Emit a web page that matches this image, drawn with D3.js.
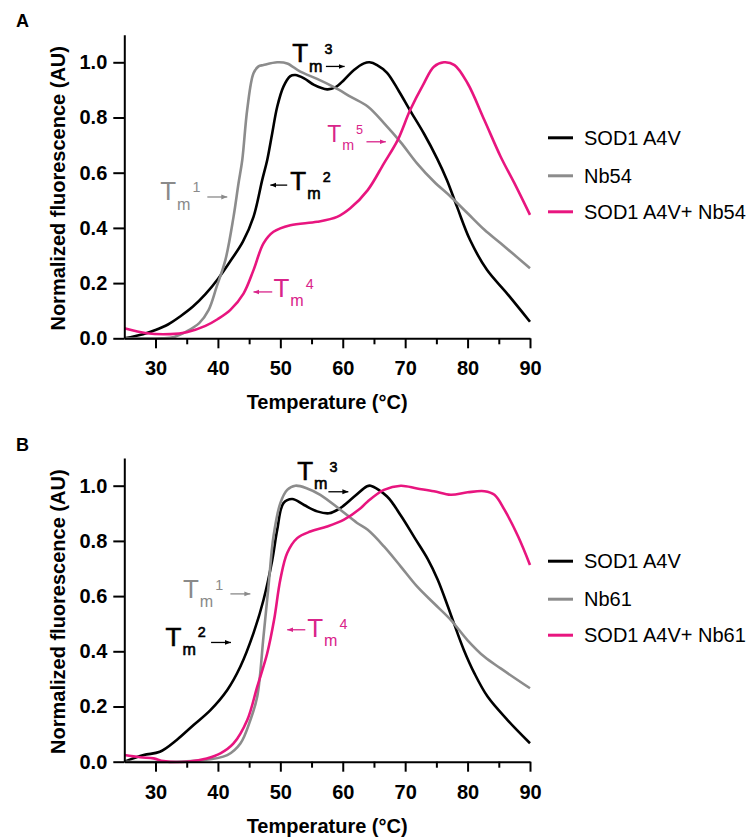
<!DOCTYPE html>
<meta charset="utf-8">
<style type="text/css">
body { margin: 0; background: #fff; }
svg { font-family: "Liberation Sans", Arial, sans-serif; }
.axis path, .axis line { stroke: #000; stroke-width: 2; }
.axis text { font-size: 20px; font-weight: bold; fill: #000; font-family: "Liberation Sans", Arial, sans-serif; }
.curve { fill: none; stroke-width: 2.6; stroke-linejoin: round; }
.axis-title { font-size: 20px; font-weight: bold; }
.legend text { font-size: 20px; }
.panel-label { font-size: 18px; font-weight: bold; }
</style>
<body>
</body>
<script src="https://d3js.org/d3.v7.min.js"></script>
<script>

// ---- data ----
// panel A : SOD1 A4V, Nb54, SOD1 A4V + Nb54
var a_sod1_T = [25, 28, 30, 32, 34, 36, 38, 40, 42, 44, 45.7, 47.1, 47.9, 48.7, 49.5, 50.5, 51.6, 52.4, 53.8, 55.4, 57.5, 58.8, 60.2, 61.8, 63.4, 64.3, 65.5, 67.1, 69, 70.8, 73, 75.1, 76.7, 78.3, 80.4, 83.1, 86.3, 90];
var a_sod1_F = [0, 0.015, 0.03, 0.05, 0.08, 0.115, 0.16, 0.215, 0.28, 0.35, 0.44, 0.574, 0.646, 0.743, 0.839, 0.912, 0.95, 0.954, 0.942, 0.918, 0.902, 0.909, 0.936, 0.972, 0.996, 1.0, 0.99, 0.962, 0.895, 0.825, 0.742, 0.652, 0.573, 0.477, 0.356, 0.248, 0.163, 0.06];

var a_nb_T = [25, 31, 33, 35, 37, 38.5, 39.8, 41.2, 42.5, 43.3, 43.9, 44.7, 45.7, 46.5, 47.3, 49.5, 51.1, 53.2, 55.9, 58.6, 61.3, 64, 66.6, 69.3, 71.9, 74.6, 77.3, 80, 82.7, 85.3, 90];
var a_nb_F = [0, 0, 0.005, 0.025, 0.055, 0.102, 0.187, 0.284, 0.44, 0.562, 0.646, 0.83, 0.96, 0.985, 0.99, 1.0, 0.996, 0.966, 0.94, 0.91, 0.875, 0.84, 0.78, 0.71, 0.634, 0.568, 0.513, 0.453, 0.393, 0.344, 0.254];

var a_mix_T = [25, 28.6, 32.4, 35, 38, 40, 42, 44.1, 45.7, 47.3, 48.9, 51.6, 55.9, 59.1, 61.2, 64, 66.6, 68.8, 70.8, 73, 74.6, 76.2, 77.9, 80, 82.7, 85.3, 87.5, 90];
var a_mix_F = [0.036, 0.018, 0.015, 0.022, 0.045, 0.07, 0.103, 0.162, 0.247, 0.344, 0.386, 0.41, 0.422, 0.44, 0.471, 0.537, 0.634, 0.718, 0.827, 0.924, 0.984, 1.0, 0.99, 0.924, 0.79, 0.658, 0.562, 0.447];

// panel B : SOD1 A4V, Nb61, SOD1 A4V + Nb61
var b_sod1_T = [25, 28.1, 30.7, 33.4, 36.1, 38.8, 41.5, 43.6, 45.7, 47.3, 48.7, 49.5, 50.5, 51.9, 53.8, 55.9, 57.8, 59.6, 61.8, 63.9, 64.45, 67.1, 69.3, 71.5, 73.6, 75.2, 76.8, 77.8, 79.4, 81.1, 83.2, 86.4, 90];
var b_sod1_F = [0, 0.024, 0.036, 0.079, 0.133, 0.187, 0.26, 0.345, 0.466, 0.586, 0.73, 0.84, 0.937, 0.952, 0.93, 0.907, 0.9, 0.919, 0.96, 0.998, 1.0, 0.961, 0.892, 0.812, 0.735, 0.66, 0.565, 0.502, 0.405, 0.32, 0.236, 0.151, 0.067];

var b_nb_T = [25, 37, 41.5, 43.6, 45.2, 46.3, 47.3, 48.1, 48.9, 50, 51.1, 52.4, 54.3, 56.4, 59.6, 62.3, 64, 66.6, 69.3, 71.9, 74.6, 77.3, 80, 82.7, 85.3, 90];
var b_nb_F = [0, 0.004, 0.024, 0.066, 0.151, 0.236, 0.453, 0.635, 0.816, 0.937, 0.985, 1.0, 0.99, 0.967, 0.913, 0.865, 0.84, 0.78, 0.707, 0.635, 0.574, 0.514, 0.44, 0.38, 0.338, 0.266];

var b_mix_T = [25, 27.5, 29.7, 31.3, 35, 38.2, 40.4, 42.5, 44.7, 46.3, 47.9, 49, 50, 51.1, 52.7, 54.8, 57.5, 60.2, 62.9, 64, 66.6, 69.3, 71.9, 74.6, 77.3, 80, 82.7, 84.3, 85.9, 88.1, 90];
var b_mix_F = [0.024, 0.016, 0.012, 0.002, 0, 0.012, 0.03, 0.066, 0.151, 0.272, 0.393, 0.514, 0.66, 0.756, 0.81, 0.834, 0.852, 0.877, 0.919, 0.943, 0.985, 1.0, 0.99, 0.98, 0.967, 0.976, 0.98, 0.967, 0.913, 0.816, 0.713];

var legendA = ["SOD1 A4V", "Nb54", "SOD1 A4V+ Nb54"];
var legendB = ["SOD1 A4V", "Nb61", "SOD1 A4V+ Nb61"];

var xTicks = [30, 40, 50, 60, 70, 80, 90];
var xMinorTicks = [35, 45, 55, 65, 75, 85];
var yTicks = [0, 0.2, 0.4, 0.6, 0.8, 1.0];

var colors = ["#000000", "#8c8c8c", "#e8157f"];
var textColors = ["#000000", "#8a8a8a", "#d9248a"];

// Tm labels, placed in data units (temperature, fluorescence)
var notesA = [
  {n: "1", c: 1, tx: 30.75, ty: 0.50, ax: [38.3, 41.5], ay: 0.512, fs: 26},
  {n: "2", c: 0, tx: 51.6, ty: 0.537, ax: [51.1, 48.4], ay: 0.555, fs: 26},
  {n: "3", c: 0, tx: 51.9, ty: 1.0, ax: [57.3, 60.3], ay: 0.985, fs: 26},
  {n: "4", c: 2, tx: 48.9, ty: 0.150, ax: [48.7, 45.7], ay: 0.168, fs: 26},
  {n: "5", c: 2, tx: 57.5, ty: 0.713, ax: [63.8, 66.9], ay: 0.712, fs: 23}
];
var notesB = [
  {n: "1", c: 1, tx: 34.4, ty: 0.593, ax: [42.0, 45.2], ay: 0.608, fs: 26},
  {n: "2", c: 0, tx: 31.6, ty: 0.42, ax: [38.9, 42.1], ay: 0.432, fs: 26},
  {n: "3", c: 0, tx: 52.7, ty: 1.021, ax: [57.7, 60.9], ay: 0.978, fs: 26},
  {n: "4", c: 2, tx: 54.3, ty: 0.452, ax: [54.0, 51.1], ay: 0.478, fs: 26}
];

var W = 749, H = 839;
var svg = d3.select("body").append("svg")
    .attr("width", W)
    .attr("height", H);

// arrow heads, one per colour
var defs = svg.append("defs");
colors.forEach(function(c, i) {
  defs.append("marker")
      .attr("id", "arr" + i)
      .attr("viewBox", "0 0 10 10")
      .attr("refX", 10).attr("refY", 5)
      .attr("markerWidth", 6).attr("markerHeight", 6)
      .attr("markerUnits", "userSpaceOnUse")
      .attr("orient", "auto")
    .append("path")
      .attr("d", "M0,1 L10,5 L0,9 Z")
      .attr("fill", textColors[i]);
});

var x = d3.scaleLinear().domain([25, 90]).range([124.3, 530]);

function drawPanel(label, y0, series, legend, notes) {
  var y = d3.scaleLinear().domain([0, 1.1]).range([y0, y0 - 1.1 * 276]);
  var g = svg.append("g");

  // curves
  var line = d3.line()
      .x(function(d) { return x(d[0]); })
      .y(function(d) { return y(d[1]); })
      .curve(d3.curveCatmullRom.alpha(0.5));

  series.forEach(function(s, i) {
    g.append("path")
        .datum(d3.zip(s[0], s[1]))
        .attr("class", "curve")
        .attr("stroke", colors[i])
        .attr("d", line);
  });

  // axes
  g.append("g")
      .attr("class", "axis")
      .attr("transform", "translate(0," + y0 + ")")
      .call(d3.axisBottom(x).tickValues(xTicks).tickSize(10).tickSizeOuter(0).tickPadding(13).tickFormat(d3.format("d")));
  g.append("g")
      .attr("class", "axis")
      .attr("transform", "translate(0," + y0 + ")")
      .call(d3.axisBottom(x).tickValues(xMinorTicks).tickSize(6).tickSizeOuter(0).tickFormat(""))
      .select(".domain").remove();
  g.append("g")
      .attr("class", "axis")
      .attr("transform", "translate(" + x(25) + ",0)")
      .call(d3.axisLeft(y).tickValues(yTicks).tickSize(11).tickSizeOuter(0).tickPadding(6).tickFormat(d3.format(".1f")));

  // axis titles
  g.append("text")
      .attr("class", "axis-title")
      .attr("x", (x(25) + x(90)) / 2)
      .attr("y", y0 + 71)
      .attr("text-anchor", "middle")
      .text("Temperature (°C)");
  g.append("text")
      .attr("class", "axis-title")
      .attr("transform", "translate(64.5," + (y0 - 150) + ") rotate(-90)")
      .attr("text-anchor", "middle")
      .text("Normalized fluorescence (AU)");

  g.append("text")
      .attr("class", "panel-label")
      .attr("x", 16)
      .attr("y", y0 - 311)
      .text(label);

  // legend
  var lg = g.append("g").attr("class", "legend");
  var rows = [y0 - 200.5, y0 - 162.5, y0 - 126.5];
  legend.forEach(function(name, i) {
    lg.append("line")
        .attr("x1", 548).attr("x2", 573)
        .attr("y1", rows[i]).attr("y2", rows[i])
        .attr("stroke", colors[i])
        .attr("stroke-width", 3);
    lg.append("text")
        .attr("x", 584)
        .attr("y", rows[i])
        .attr("dy", "0.35em")
        .text(name);
  });

  // Tm annotations
  notes.forEach(function(n) {
    var col = textColors[n.c];
    var t = g.append("text")
        .attr("x", x(n.tx))
        .attr("y", y(n.ty))
        .attr("fill", col)
        .style("font-size", n.fs + "px");
    if (n.c === 0) t.attr("stroke", col).attr("stroke-width", 0.6);
    t.append("tspan").text("T");
    t.append("tspan")
        .attr("dx", 1)
        .attr("dy", n.fs * 0.36)
        .style("font-size", (n.fs * 0.62) + "px")
        .text("m");
    t.append("tspan")
        .attr("dx", 2)
        .attr("dy", -n.fs * 0.68)
        .style("font-size", (n.fs * 0.55) + "px")
        .text(n.n);
    g.append("line")
        .attr("x1", x(n.ax[0])).attr("x2", x(n.ax[1]))
        .attr("y1", y(n.ay)).attr("y2", y(n.ay))
        .attr("stroke", col)
        .attr("stroke-width", 1.3)
        .attr("marker-end", "url(#arr" + n.c + ")");
  });
}

drawPanel("A", 338.3,
  [[a_sod1_T, a_sod1_F], [a_nb_T, a_nb_F], [a_mix_T, a_mix_F]],
  legendA, notesA);
drawPanel("B", 761.7,
  [[b_sod1_T, b_sod1_F], [b_nb_T, b_nb_F], [b_mix_T, b_mix_F]],
  legendB, notesB);

</script>
